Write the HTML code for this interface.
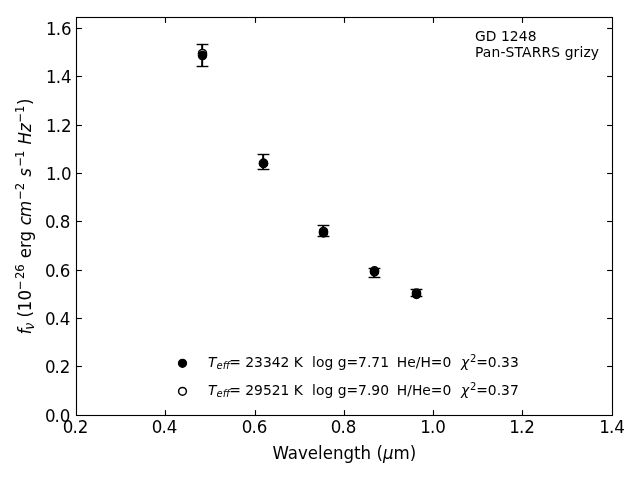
<!DOCTYPE html>
<html lang="en">
<head>
<meta charset="utf-8">
<title>GD 1248 Pan-STARRS grizy</title>
<style>
html,body{margin:0;padding:0;background:#fff;overflow:hidden}
body{width:640px;height:480px}
svg{display:block;position:absolute;left:0;top:0}
text{font-family:"DejaVu Sans","Liberation Sans",sans-serif;fill:#000;font-kerning:normal}
.t12{font-size:16.667px}
.tl{font-size:17.4px}
.t10{font-size:13.889px}
.i{font-style:italic}
.s{font-size:12.46px}
.s2{font-size:13.4px}
.ax{fill:none;stroke:#000;stroke-width:1.11;stroke-linecap:square;stroke-linejoin:miter}
.tk{stroke:#000;stroke-width:1.11;stroke-linecap:butt}
.eb{stroke:#000;stroke-width:2.0;stroke-linecap:butt;fill:none}
.eb .cap{stroke-width:1.4}
</style>
</head>
<body>
<svg width="640" height="480" viewBox="0 0 640 480">
<rect x="0" y="0" width="640" height="480" fill="#ffffff"/>

<g class="tk">
<line x1="165.5" y1="415.5" x2="165.5" y2="410.1"/><line x1="165.5" y1="17.5" x2="165.5" y2="22.9"/>
<line x1="255.5" y1="415.5" x2="255.5" y2="410.1"/><line x1="255.5" y1="17.5" x2="255.5" y2="22.9"/>
<line x1="344.5" y1="415.5" x2="344.5" y2="410.1"/><line x1="344.5" y1="17.5" x2="344.5" y2="22.9"/>
<line x1="433.5" y1="415.5" x2="433.5" y2="410.1"/><line x1="433.5" y1="17.5" x2="433.5" y2="22.9"/>
<line x1="522.5" y1="415.5" x2="522.5" y2="410.1"/><line x1="522.5" y1="17.5" x2="522.5" y2="22.9"/>
<line x1="76.5" y1="366.5" x2="81.9" y2="366.5"/><line x1="612.5" y1="366.5" x2="607.1" y2="366.5"/>
<line x1="76.5" y1="318.5" x2="81.9" y2="318.5"/><line x1="612.5" y1="318.5" x2="607.1" y2="318.5"/>
<line x1="76.5" y1="270.5" x2="81.9" y2="270.5"/><line x1="612.5" y1="270.5" x2="607.1" y2="270.5"/>
<line x1="76.5" y1="221.5" x2="81.9" y2="221.5"/><line x1="612.5" y1="221.5" x2="607.1" y2="221.5"/>
<line x1="76.5" y1="173.5" x2="81.9" y2="173.5"/><line x1="612.5" y1="173.5" x2="607.1" y2="173.5"/>
<line x1="76.5" y1="125.5" x2="81.9" y2="125.5"/><line x1="612.5" y1="125.5" x2="607.1" y2="125.5"/>
<line x1="76.5" y1="76.5" x2="81.9" y2="76.5"/><line x1="612.5" y1="76.5" x2="607.1" y2="76.5"/>
<line x1="76.5" y1="28.5" x2="81.9" y2="28.5"/><line x1="612.5" y1="28.5" x2="607.1" y2="28.5"/>
</g>
<g class="eb">
<line x1="202.15" y1="44.5" x2="202.15" y2="66.5"/><line class="cap" x1="196.6" y1="44.5" x2="208.4" y2="44.5"/><line class="cap" x1="196.6" y1="66.5" x2="208.4" y2="66.5"/>
<line x1="263.15" y1="154.5" x2="263.15" y2="169.5"/><line class="cap" x1="257.6" y1="154.5" x2="269.4" y2="154.5"/><line class="cap" x1="257.6" y1="169.5" x2="269.4" y2="169.5"/>
<line x1="323.15" y1="225.5" x2="323.15" y2="236.5"/><line class="cap" x1="317.6" y1="225.5" x2="329.4" y2="225.5"/><line class="cap" x1="317.6" y1="236.5" x2="329.4" y2="236.5"/>
<line x1="374.15" y1="268.5" x2="374.15" y2="277.5"/><line class="cap" x1="368.6" y1="268.5" x2="380.4" y2="268.5"/><line class="cap" x1="368.6" y1="277.5" x2="380.4" y2="277.5"/>
<line x1="416.15" y1="289.5" x2="416.15" y2="296.5"/><line class="cap" x1="410.6" y1="289.5" x2="422.4" y2="289.5"/><line class="cap" x1="410.6" y1="296.5" x2="422.4" y2="296.5"/>
</g>
<g stroke="#000" stroke-width="1.5">
<circle cx="202.5" cy="53.5" r="4.05" fill="#fff"/>
<circle cx="263.5" cy="163.4" r="4.05" fill="#fff"/>
<circle cx="323.5" cy="231.5" r="4.05" fill="#fff"/>
<circle cx="374.5" cy="270.9" r="4.05" fill="#fff"/>
<circle cx="416.5" cy="293.0" r="4.05" fill="#fff"/>
<circle cx="202.5" cy="55.5" r="4.05" fill="#000"/>
<circle cx="263.5" cy="163.4" r="4.05" fill="#000"/>
<circle cx="323.5" cy="232.9" r="4.05" fill="#000"/>
<circle cx="374.5" cy="271.9" r="4.05" fill="#000"/>
<circle cx="416.5" cy="294.4" r="4.05" fill="#000"/>
</g>
<rect class="ax" x="76.5" y="17.5" width="536.0" height="398.0"/>
<g class="tl" text-anchor="middle">
<text transform="translate(75.6 433) scale(0.96 1)" dx="0 -1.1 0">0.2</text>
<text transform="translate(164.6 433) scale(0.96 1)" dx="0 -1.1 0">0.4</text>
<text transform="translate(254.6 433) scale(0.96 1)" dx="0 -1.1 0">0.6</text>
<text transform="translate(343.6 433) scale(0.96 1)" dx="0 -1.1 0">0.8</text>
<text transform="translate(433.1 433) scale(0.96 1)" dx="0 -1.1 0">1.0</text>
<text transform="translate(522.1 433) scale(0.96 1)" dx="0 -1.1 0">1.2</text>
<text transform="translate(612.1 433) scale(0.96 1)" dx="0 -1.1 0">1.4</text>
</g>
<g class="tl" text-anchor="end">
<text transform="translate(70.4 421.8) scale(0.96 1)" dx="0 -1.1 0">0.0</text>
<text transform="translate(70.4 372.8) scale(0.96 1)" dx="0 -1.1 0">0.2</text>
<text transform="translate(70.4 324.8) scale(0.96 1)" dx="0 -1.1 0">0.4</text>
<text transform="translate(70.4 276.8) scale(0.96 1)" dx="0 -1.1 0">0.6</text>
<text transform="translate(70.4 227.8) scale(0.96 1)" dx="0 -1.1 0">0.8</text>
<text transform="translate(71.6 179.8) scale(0.96 1)" dx="0 -1.1 0">1.0</text>
<text transform="translate(71.6 131.8) scale(0.96 1)" dx="0 -1.1 0">1.2</text>
<text transform="translate(71.6 82.8) scale(0.96 1)" dx="0 -1.1 0">1.4</text>
<text transform="translate(71.6 34.8) scale(0.96 1)" dx="0 -1.1 0">1.6</text>
</g>
<text transform="translate(344.3 459) scale(0.936 1)" font-size="17.8px" text-anchor="middle">Wavelength (<tspan class="i">μ</tspan>m)</text>
<text font-size="17.8px" xml:space="preserve" transform="translate(31.0 334.6) rotate(-90) scale(0.936 1)"><tspan class="i" x="0.00" y="0">f</tspan><tspan class="i s2" x="5.24" y="2.9">ν</tspan><tspan x="12.50" y="0"> (10</tspan><tspan class="s" x="47.44" y="-6.8" dx="0 1.4 0">−26</tspan><tspan x="75.94" y="0"> erg </tspan><tspan class="i" x="116.85" y="0" dx="0 -1.0">cm</tspan><tspan class="s" x="143.91" y="-6.8">−2</tspan><tspan x="163.66" y="0"> </tspan><tspan class="i" x="168.70" y="0">s</tspan><tspan class="s" x="179.43" y="-6.8" dx="0 -1.3">−1</tspan><tspan x="198.29" y="0"> </tspan><tspan class="i" x="203.10" y="0">Hz</tspan><tspan class="s" x="226.39" y="-6.8">−1</tspan><tspan x="245.19" y="0">)</tspan></text>
<text class="t10" x="475" y="40.8" style="letter-spacing:0.05px">GD 1248</text>
<text class="t10" x="475" y="56.5" style="letter-spacing:0.13px">Pan-STARRS grizy</text>
<circle cx="182.5" cy="363.3" r="3.9" fill="#000" stroke="#000" stroke-width="1.5"/>
<text class="t10" y="367"><tspan class="i" x="208">T</tspan><tspan class="i" font-size="10px" x="216.5" y="369.3">eff</tspan><tspan x="229.2" y="367">= 23342 K</tspan> <tspan x="312.1" y="367">log g=7.71</tspan> <tspan x="396.8" y="367">He/H=0</tspan> <tspan class="i" x="461.0" y="367">χ</tspan><tspan font-size="10px" x="470.0" y="361.7">2</tspan><tspan x="476.2" y="367">=0.33</tspan></text>
<circle cx="182.5" cy="391.3" r="3.9" fill="#fff" stroke="#000" stroke-width="1.5"/>
<text class="t10" y="395"><tspan class="i" x="208">T</tspan><tspan class="i" font-size="10px" x="216.5" y="397.3">eff</tspan><tspan x="229.2" y="395">= 29521 K</tspan> <tspan x="312.1" y="395">log g=7.90</tspan> <tspan x="396.8" y="395">H/He=0</tspan> <tspan class="i" x="461.0" y="395">χ</tspan><tspan font-size="10px" x="470.0" y="389.7">2</tspan><tspan x="476.2" y="395">=0.37</tspan></text>
</svg>
</body>
</html>
